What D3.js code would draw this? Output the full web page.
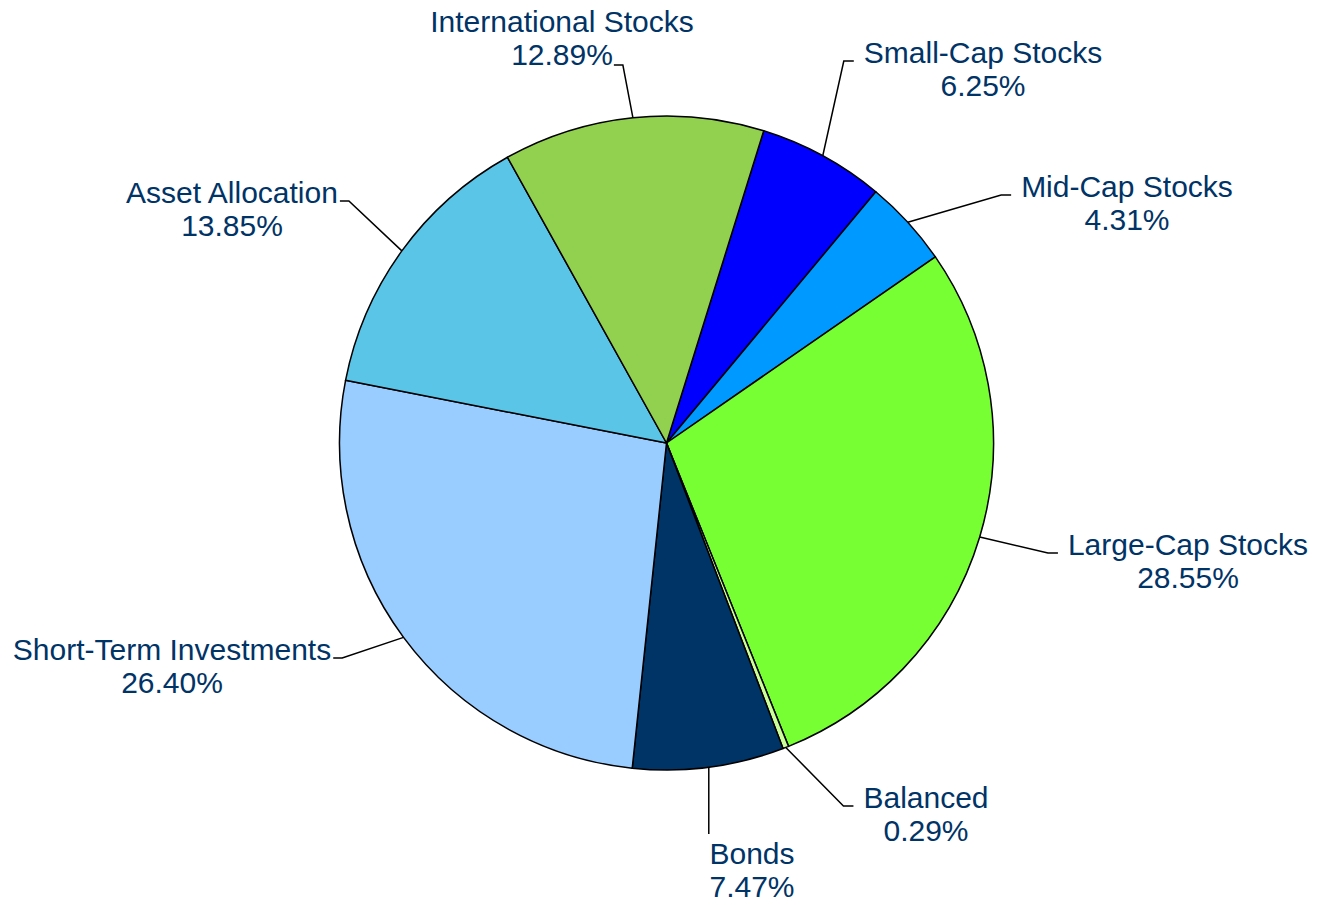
<!DOCTYPE html>
<html>
<head>
<meta charset="utf-8">
<script src="https://cdn.jsdelivr.net/npm/d3@7"></script>
<style>
  body { margin: 0; background: #fff; }
  text { font-family: "Liberation Sans", Arial, sans-serif; fill: #003366; }
</style>
</head>
<body>
<script>
// slice data, in drawing order (clockwise)
var names = ["Small-Cap Stocks", "Mid-Cap Stocks", "Large-Cap Stocks", "Balanced",
             "Bonds", "Short-Term Investments", "Asset Allocation", "International Stocks"];
var shares = [6.25, 4.31, 28.55, 0.29, 7.47, 26.40, 13.85, 12.89];
var colors = ["#0000ff", "#0099ff", "#77ff33", "#ccff99",
              "#003366", "#99ccff", "#5bc5e8", "#92d050"];

// label placement (layout only): centre x, first baseline, where the leader meets the text
var labelX = [983, 1127, 1188, 926, 752, 172, 232, 562];
var labelY = [63, 197, 555, 808, 864, 660, 203, 32];
var joint = ["left", "left", "left", "left", "top", "right", "right", "right2"];

var width = 1319, height = 905;
var cx = 666.5, cy = 443, radius = 327;
var startAngle = 17.3 * Math.PI / 180;

var svg = d3.select("body").append("svg")
  .attr("width", width)
  .attr("height", height);

var data = names.map(function(n, i) {
  return {name: n, value: shares[i], color: colors[i], lx: labelX[i], ly: labelY[i], joint: joint[i]};
});

var pie = d3.pie()
  .sort(null)
  .value(function(d) { return d.value; })
  .startAngle(startAngle)
  .endAngle(startAngle + 2 * Math.PI);

var arc = d3.arc().innerRadius(0).outerRadius(radius);

var arcs = pie(data);

var g = svg.append("g")
  .attr("transform", "translate(" + cx + "," + cy + ")");

g.selectAll("path.slice")
  .data(arcs)
  .enter()
  .append("path")
  .attr("class", "slice")
  .attr("d", arc)
  .attr("fill", function(d) { return d.data.color; })
  .attr("stroke", "#000")
  .attr("stroke-width", 1.5)
  .attr("stroke-linejoin", "round");

// labels
var lineGap = 33;
var labels = svg.selectAll("text.lbl")
  .data(arcs)
  .enter()
  .append("text")
  .attr("class", "lbl")
  .attr("text-anchor", "middle")
  .style("font-size", "30px");

labels.append("tspan")
  .attr("x", function(d) { return d.data.lx; })
  .attr("y", function(d) { return d.data.ly; })
  .text(function(d) { return d.data.name; });

labels.append("tspan")
  .attr("x", function(d) { return d.data.lx; })
  .attr("y", function(d) { return d.data.ly + lineGap; })
  .text(function(d) { return d.data.value.toFixed(2) + "%"; });

// leader lines: from the slice edge at mid angle to the label
labels.each(function(d) {
  var t = d3.select(this);
  var spans = t.selectAll("tspan").nodes();
  var w1 = spans[0].getComputedTextLength();
  var w2 = spans[1].getComputedTextLength();
  var mid = (d.startAngle + d.endAngle) / 2;
  var sx = cx + radius * Math.sin(mid);
  var sy = cy - radius * Math.cos(mid);
  var pts;
  if (d.data.joint == "top") {
    pts = [[sx, sy], [sx, d.data.ly - 30]];
  } else if (d.data.joint == "left") {
    var ex = d.data.lx - w1 / 2 - 10, ey = d.data.ly - 2;
    pts = [[sx, sy], [ex - 10, ey], [ex, ey]];
  } else if (d.data.joint == "right") {
    var ex = d.data.lx + w1 / 2 + 2, ey = d.data.ly - 2;
    pts = [[sx, sy], [ex + 9, ey], [ex, ey]];
  } else {
    var ex = d.data.lx + w2 / 2 + 1, ey = d.data.ly + lineGap;
    pts = [[sx, sy], [ex + 9, ey], [ex, ey]];
  }
  svg.append("path")
    .attr("d", d3.line()(pts))
    .attr("fill", "none")
    .attr("stroke", "#000")
    .attr("stroke-width", 1.5);
});
</script>
</body>
</html>
